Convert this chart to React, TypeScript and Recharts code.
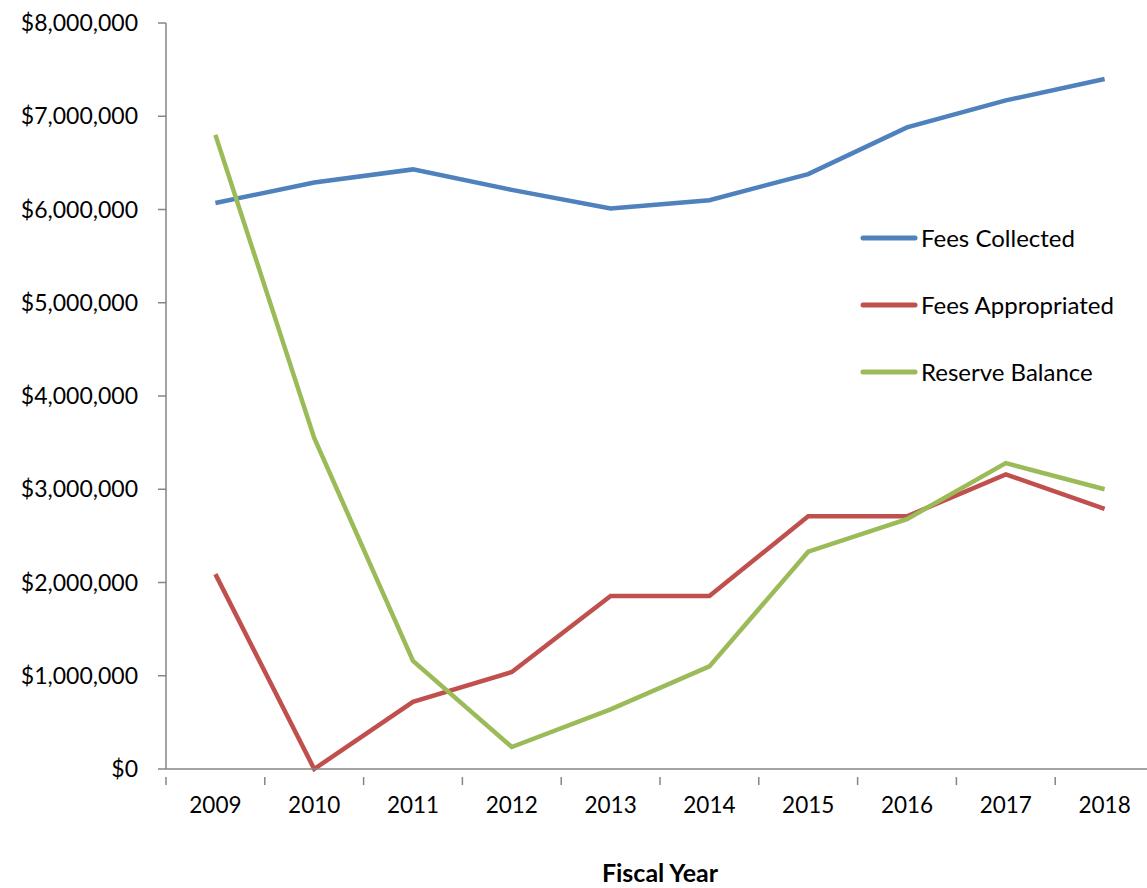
import { LineChart, Line, XAxis, YAxis } from "recharts";

const years = ["2009", "2010", "2011", "2012", "2013", "2014", "2015", "2016", "2017", "2018"];
const feesCollected = [6070000, 6290000, 6430000, 6210000, 6010000, 6100000, 6380000, 6880000, 7170000, 7400000];
const feesAppropriated = [2090000, 0, 720000, 1040000, 1855000, 1855000, 2710000, 2710000, 3160000, 2790000];
const reserveBalance = [6800000, 3550000, 1160000, 236000, 640000, 1100000, 2330000, 2680000, 3280000, 3000000];
const yTicks = [0, 1000000, 2000000, 3000000, 4000000, 5000000, 6000000, 7000000, 8000000];

const seriesInfo = [
  { key: "collected", name: "Fees Collected", color: "#4F81BD" },
  { key: "appropriated", name: "Fees Appropriated", color: "#C0504D" },
  { key: "reserve", name: "Reserve Balance", color: "#9BBB59" },
];

const data = years.map((y, i) => ({
  year: y,
  collected: feesCollected[i],
  appropriated: feesAppropriated[i],
  reserve: reserveBalance[i],
}));

const FONT = "Lato, 'Noto Sans', sans-serif";
const AXIS = "#868686";
const BAND = 98.8;

const fmt = (v: number) => "$" + v.toLocaleString("en-US");

function XTick(props: any) {
  const { x, y, payload } = props;
  return (
    <g>
      <line x1={x - BAND / 2} x2={x - BAND / 2} y1={y} y2={y + 8} stroke={AXIS} strokeWidth={1.5} />
      <text x={x} y={y + 30} textAnchor="middle" dominantBaseline="middle" fontSize={22.5} fontFamily={FONT} fill="#000">
        {payload.value}
      </text>
    </g>
  );
}

function LegendBox() {
  return (
    <div style={{ position: "absolute", left: 860, top: 204, fontFamily: FONT, fontSize: 24, color: "#000" }}>
      {seriesInfo.map((s) => (
        <div key={s.key} style={{ display: "flex", alignItems: "center", height: 67 }}>
          <svg width={58} height={10}>
            <line x1={3} x2={55} y1={5} y2={5} stroke={s.color} strokeWidth={5} strokeLinecap="round" />
          </svg>
          <span style={{ marginLeft: 3 }}>{s.name}</span>
        </div>
      ))}
    </div>
  );
}

export default function App() {
  return (
    <div style={{ width: 1147, height: 888, overflow: "hidden", position: "relative" }}>
      <style>{`body{margin:0;overflow:hidden}`}</style>
      <LineChart width={1154} height={888} data={data} margin={{ top: 23, right: 0, left: 0, bottom: 0 }}>
        <XAxis
          dataKey="year"
          height={119}
          padding={{ left: BAND / 2, right: BAND / 2 }}
          stroke={AXIS}
          strokeWidth={1.5}
          tickLine={false}
          tick={<XTick />}
          interval={0}
          label={{ value: "Fiscal Year", position: "insideBottom", offset: 0, dy: -6, style: { fontFamily: FONT, fontSize: 25, fontWeight: 700, fill: "#000" } }}
        />
        <YAxis
          width={166}
          domain={[0, 8000000]}
          ticks={yTicks}
          tickFormatter={fmt}
          stroke={AXIS}
          strokeWidth={1.5}
          tickSize={8}
          tickMargin={20}
          tick={{ fontFamily: FONT, fontSize: 23, fill: "#000" }}
          interval={0}
        />
        {seriesInfo.map((s) => (
          <Line
            key={s.key}
            dataKey={s.key}
            name={s.name}
            stroke={s.color}
            strokeWidth={4.5}
            dot={false}
            isAnimationActive={false}
            type="linear"
          />
        ))}
      </LineChart>
      <LegendBox />
    </div>
  );
}
